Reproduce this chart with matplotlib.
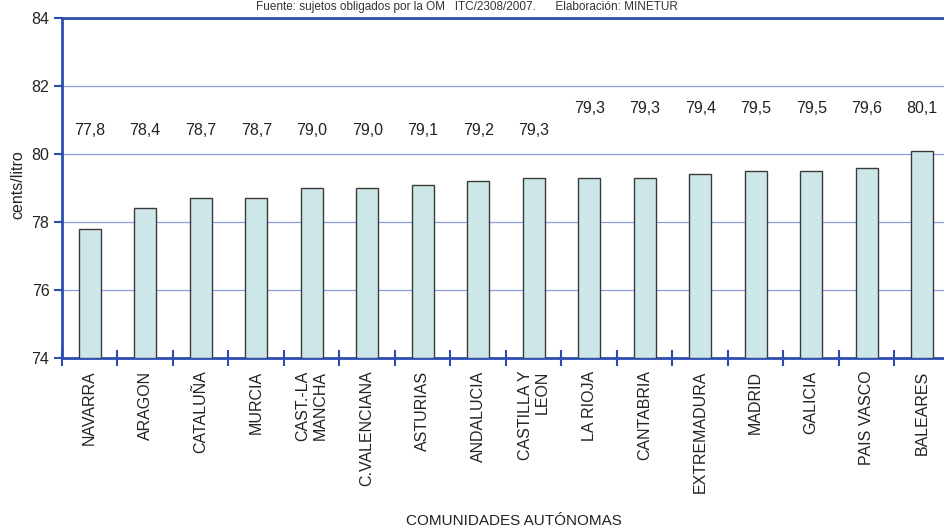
import matplotlib
matplotlib.use("Agg")
import matplotlib.pyplot as plt
import numpy as np

plt.rcParams['font.family'] = ['Liberation Sans', 'DejaVu Sans']

# Precio medio por comunidad autónoma (cents/litro)
regions = ["NAVARRA", "ARAGON", "CATALUÑA", "MURCIA", "CAST.-LA\nMANCHA",
           "C.VALENCIANA", "ASTURIAS", "ANDALUCIA", "CASTILLA Y\nLEON",
           "LA RIOJA", "CANTABRIA", "EXTREMADURA", "MADRID", "GALICIA",
           "PAIS VASCO", "BALEARES"]
prices = [77.8, 78.4, 78.7, 78.7, 79.0, 79.0, 79.1, 79.2, 79.3,
          79.3, 79.3, 79.4, 79.5, 79.5, 79.6, 80.1]
# vertical row in which each value label is printed (0 = lower, 1 = upper)
label_row = [0, 0, 0, 0, 0, 0, 0, 0, 0, 1, 1, 1, 1, 1, 1, 1]
y_ticks = [74, 76, 78, 80, 82, 84]

W, H = 945, 528
fig = plt.figure(figsize=(W / 100, H / 100), dpi=100)
fig.patch.set_facecolor("white")

# axes run slightly past the right edge of the figure
left, top, bottom, right = 62, 18, 358, 950
ax = fig.add_axes([left / W, 1 - bottom / H, (right - left) / W, (bottom - top) / H])

blue = "#2b4db0"
grid_blue = "#8aa0e0"
x = np.arange(len(regions))

ax.bar(x, [p - 74 for p in prices], bottom=74, width=0.4,
       color="#cde7e9", edgecolor="#3a3a3a", linewidth=1.0, zorder=3)

label_y = [80.7, 81.35]
for xi, p, r in zip(x, prices, label_row):
    ax.text(xi, label_y[r], f"{p:.1f}".replace(".", ","), ha="center", va="center",
            fontsize=11.5, color="#222222")

ax.set_xlim(-0.5, len(regions) - 0.5)
ax.set_ylim(74, 84)
ax.set_yticks(y_ticks)
ax.set_yticklabels([str(t) for t in y_ticks], fontsize=11.5, color="#222222")
ax.yaxis.grid(True, color=grid_blue, linewidth=0.9, zorder=0)
ax.tick_params(axis="y", direction="out", length=6, width=1.5, color=blue, pad=3)

ax.set_xticks(x)
ax.set_xticklabels(regions, rotation=90, fontsize=11.5, color="#222222",
                   va="top", ha="center", multialignment="right")
ax.tick_params(axis="x", which="major", length=0, pad=9)
ax.set_xticks(np.arange(-0.5, len(regions), 1.0), minor=True)
ax.tick_params(axis="x", which="minor", direction="inout", length=12, width=1.5, color=blue)

for side in ["left", "bottom", "top"]:
    ax.spines[side].set_color(blue)
    ax.spines[side].set_linewidth(2.0)
ax.spines["right"].set_visible(False)

fig.text(18 / W, 1 - 185 / H, "cents/litro", rotation=90, ha="center", va="center",
         fontsize=11.5, color="#222222")
fig.text(514 / W, 1 - 521 / H, "COMUNIDADES AUTÓNOMAS", ha="center", va="center",
         fontsize=11, color="#222222")
fig.text(467 / W, 1 - 7 / H,
         "Fuente: sujetos obligados por la OM   ITC/2308/2007.      Elaboración: MINETUR",
         ha="center", va="center", fontsize=8.5, color="#333333")

fig.savefig("out.png", dpi=100)
